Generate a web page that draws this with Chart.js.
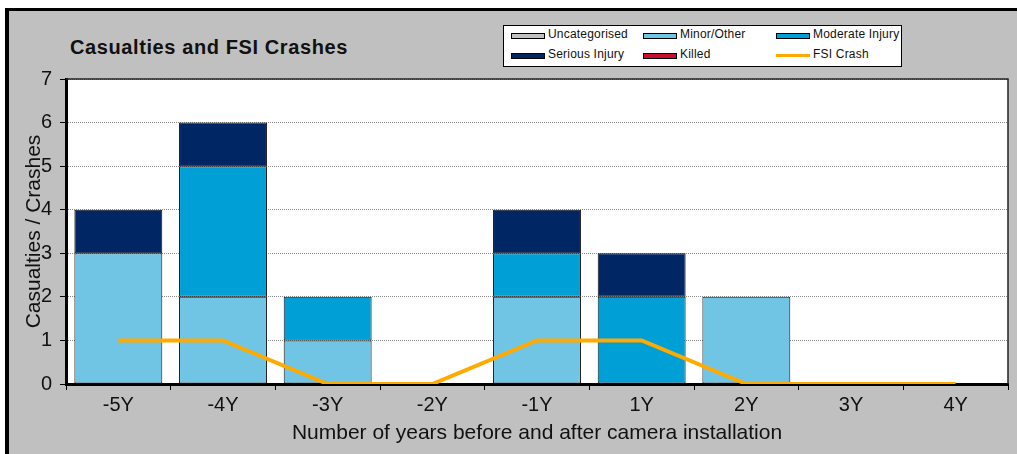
<!DOCTYPE html>
<html>
<head>
<meta charset="utf-8">
<script src="https://cdn.jsdelivr.net/npm/chart.js@4"></script>
<style>
  html, body { margin: 0; padding: 0; background: #fff; }
  body { width: 1017px; height: 454px; overflow: hidden; position: relative; font-family: "Liberation Sans", Arial, sans-serif; }
  #frame { position: absolute; left: 5px; top: 8px; width: 1100px; height: 500px;
           border-top: 3px solid #000; border-left: 4px solid #000; background: #c0c0c0; }
  #title { position: absolute; left: 70px; top: 36px; font-weight: bold; font-size: 20px; letter-spacing: 0.6px; color: #111; }
  #legend { position: absolute; left: 503px; top: 25px; width: 397px; height: 40px;
            background: #fff; border: 1px solid #000; }
  .item { position: absolute; font-size: 12px; color: #111; white-space: nowrap; letter-spacing: 0.2px; }
  .sw { position: absolute; width: 32px; height: 4px; border: 1px solid #000; }
  .ln { position: absolute; width: 34px; height: 3px; }
  #wrap { position: absolute; left: 0; top: 0; width: 1017px; height: 454px; }
</style>
</head>
<body>
<div id="frame"></div>
<div id="title">Casualties and FSI Crashes</div>
<div id="legend"></div>
<div id="wrap"><canvas id="chart"></canvas></div>
<script>
// categories
const years = ["-5Y", "-4Y", "-3Y", "-2Y", "-1Y", "1Y", "2Y", "3Y", "4Y"];

// series values
const uncategorised = [0, 0, 0, 0, 0, 0, 0, 0, 0];
const minorOther    = [3, 2, 1, 0, 2, 0, 2, 0, 0];
const moderate      = [0, 3, 1, 0, 1, 2, 0, 0, 0];
const serious       = [1, 1, 0, 0, 1, 1, 0, 0, 0];
const killed        = [0, 0, 0, 0, 0, 0, 0, 0, 0];
const fsiCrash      = [1, 1, 0, 0, 1, 1, 0, 0, 0];

// y ticks
const yTicks = [0, 1, 2, 3, 4, 5, 6, 7];

const barSeries = [
  { label: "Uncategorised",   data: uncategorised, color: "#c0c0c0" },
  { label: "Minor/Other",     data: minorOther,    color: "#70c5e5" },
  { label: "Moderate Injury", data: moderate,      color: "#009fd6" },
  { label: "Serious Injury",  data: serious,       color: "#002664" },
  { label: "Killed",          data: killed,        color: "#c8102e" }
];
const lineColor = "#ffaa00";

// legend (html, 3 columns x 2 rows)
const legendItems = barSeries.map(s => ({ label: s.label, color: s.color, line: false }));
legendItems.push({ label: "FSI Crash", color: lineColor, line: true });
const colX = [7, 139, 272];
const rowY = [6, 26];
const legend = document.getElementById("legend");
legendItems.forEach((it, i) => {
  const x = colX[i % 3], y = rowY[Math.floor(i / 3)];
  const mark = document.createElement("div");
  if (it.line) {
    mark.className = "ln";
    mark.style.left = x + "px";
    mark.style.top = (y + 2) + "px";
  } else {
    mark.className = "sw";
    mark.style.left = x + "px";
    mark.style.top = (y + 1) + "px";
  }
  mark.style.background = it.color;
  legend.appendChild(mark);
  const t = document.createElement("div");
  t.className = "item";
  t.style.left = (x + 37) + "px";
  t.style.top = (y - 5) + "px";
  t.textContent = it.label;
  legend.appendChild(t);
});

const plotFrame = {
  id: "plotFrame",
  beforeDraw(chart) {
    const a = chart.chartArea, c = chart.ctx;
    c.save();
    c.fillStyle = "#fff";
    c.fillRect(a.left, a.top, a.right - a.left, a.bottom - a.top);
    c.restore();
  },
  afterDraw(chart) {
    const a = chart.chartArea, c = chart.ctx;
    c.save();
    c.strokeStyle = "#222";
    c.lineWidth = 1.5;
    c.beginPath();
    c.moveTo(a.left, a.top);
    c.lineTo(a.right, a.top);
    c.lineTo(a.right, a.bottom);
    c.stroke();
    c.restore();
  }
};

const narrow = "'Liberation Sans Narrow', 'Arial Narrow', 'Liberation Sans', Arial, sans-serif";

const datasets = barSeries.map(s => ({
  type: "bar",
  label: s.label,
  data: s.data,
  backgroundColor: s.color,
  borderColor: "#111",
  borderWidth: 1,
  borderSkipped: false,
  stack: "casualties",
  barPercentage: 0.84,
  categoryPercentage: 1.0,
  order: 1
}));
datasets.push({
  type: "line",
  label: "FSI Crash",
  data: fsiCrash,
  borderColor: lineColor,
  backgroundColor: lineColor,
  borderWidth: 4,
  pointRadius: 0,
  tension: 0,
  stack: "fsi",
  order: 0
});

new Chart(document.getElementById("chart"), {
  data: { labels: years, datasets: datasets },
  plugins: [plotFrame],
  options: {
    responsive: true,
    maintainAspectRatio: false,
    animation: false,
    layout: { padding: { left: 22, top: 79, right: 9, bottom: 0 } },
    plugins: { legend: { display: false }, tooltip: { enabled: false } },
    scales: {
      x: {
        stacked: true,
        afterFit(scale) { scale.height = 70; },
        grid: { offset: true, drawOnChartArea: false, drawTicks: true, tickLength: 6, tickColor: "#000", tickWidth: 1 },
        border: { display: true, color: "#000", width: 3 },
        ticks: { color: "#111", font: { family: narrow, size: 20 }, padding: 3 },
        title: {
          display: true,
          text: "Number of years before and after camera installation",
          color: "#111",
          font: { family: narrow, size: 21 },
          padding: { top: 0, bottom: 8 }
        }
      },
      y: {
        stacked: true,
        min: 0,
        max: 7,
        afterFit(scale) { scale.width = 44; },
        afterBuildTicks(scale) { scale.ticks = yTicks.map(v => ({ value: v })); },
        grid: { color: "#8a8a8a", lineWidth: 1, drawTicks: true, tickLength: 6, tickColor: "#000" },
        border: { display: true, color: "#000", width: 3, dash: [1, 1] },
        ticks: { color: "#111", font: { family: narrow, size: 20 }, padding: 8 },
        title: {
          display: true,
          text: "Casualties / Crashes",
          color: "#111",
          font: { family: "'Liberation Sans', Arial, sans-serif", size: 21 },
          padding: { top: 0, bottom: 0 }
        }
      }
    }
  }
});
</script>
</body>
</html>
